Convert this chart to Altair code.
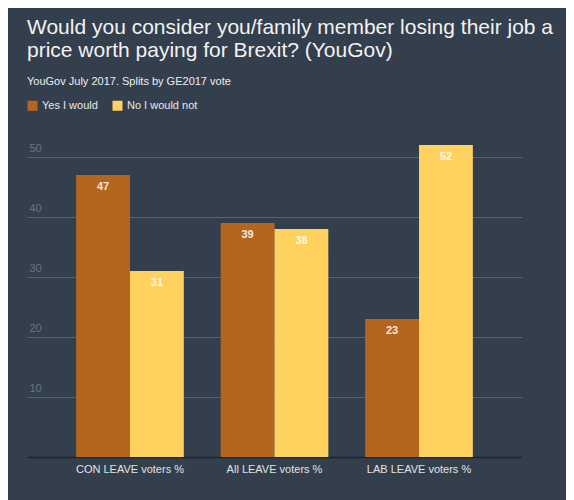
import altair as alt
import pandas as pd

groups = ["CON LEAVE voters %", "All LEAVE voters %", "LAB LEAVE voters %"]
answers = ["Yes I would", "No I would not"]
yes_values = [47, 39, 23]
no_values = [31, 38, 52]
colors = ["#B4661F", "#FFD15E"]
y_ticks = [10, 20, 30, 40, 50]

rows = []
for g, y, n in zip(groups, yes_values, no_values):
    rows.append({"group": g, "answer": answers[0], "value": y})
    rows.append({"group": g, "answer": answers[1], "value": n})
df = pd.DataFrame(rows)

FONT = "Liberation Sans"
BG = "#343F4E"

x_enc = alt.X("group:N", sort=groups,
              scale=alt.Scale(paddingInner=0.255, paddingOuter=0.34),
              axis=alt.Axis(title=None, labelAngle=0, ticks=False, grid=False,
                            domain=True, domainColor="#1E252E", domainWidth=1.5,
                            labelColor="#E2E2E2", labelFontSize=11, labelFont=FONT,
                            labelPadding=6))
xo_enc = alt.XOffset("answer:N", sort=answers,
                     scale=alt.Scale(paddingInner=0, paddingOuter=0))
y_enc = alt.Y("value:Q", scale=alt.Scale(domain=[0, 55], nice=False),
              axis=alt.Axis(title=None, values=y_ticks, grid=True, gridColor="#58626F",
                            gridWidth=1, domain=False, ticks=False, tickSize=0,
                            labelAlign="left", labelBaseline="alphabetic",
                            labelPadding=-2, labelOffset=-6, labelColor="#6A7382",
                            labelFontSize=11, labelFont=FONT))

bars = alt.Chart(df).mark_bar().encode(
    x=x_enc,
    xOffset=xo_enc,
    y=y_enc,
    color=alt.Color("answer:N", sort=answers,
                    scale=alt.Scale(domain=answers, range=colors),
                    legend=alt.Legend(title=None, orient="none", legendX=0, legendY=-27,
                                      direction="horizontal", symbolType="square",
                                      symbolSize=100, symbolStrokeWidth=0,
                                      symbolOpacity=1, labelFontSize=11,
                                      labelColor="#E8E8E8", labelFont=FONT,
                                      labelOffset=4, columnPadding=14, padding=0)),
)

labels = alt.Chart(df).mark_text(baseline="middle", dy=12, color="white",
                                 opacity=0.85, fontSize=11, font=FONT,
                                 fontWeight="bold").encode(
    x=alt.X("group:N", sort=groups),
    xOffset=alt.XOffset("answer:N", sort=answers),
    y=alt.Y("value:Q"),
    text=alt.Text("value:Q"),
)

chart = alt.layer(bars, labels).properties(
    width=495,
    height=330,
    autosize=alt.AutoSizeParams(type="none"),
    padding={"left": 19, "top": 119, "right": 44, "bottom": 43},
    title=alt.TitleParams(
        text=["Would you consider you/family member losing their job a",
              "price worth paying for Brexit? (YouGov)"],
        subtitle="YouGov July 2017. Splits by GE2017 vote",
        anchor="start", frame="group", font=FONT, fontSize=21, lineHeight=23,
        fontWeight="normal", color="#F2F2F2",
        subtitleFont=FONT, subtitleFontSize=11, subtitleColor="#EEEEEE",
        subtitlePadding=15, offset=13,
    ),
).configure(background=BG).configure_view(stroke=None)

chart.save("out.html", embed_options={"renderer": "svg", "actions": False})
